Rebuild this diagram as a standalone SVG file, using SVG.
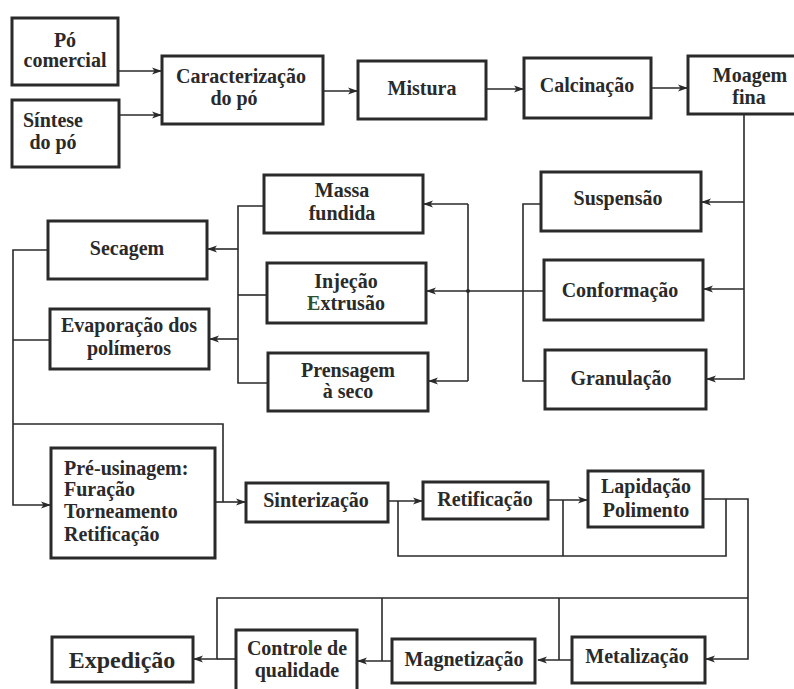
<svg xmlns="http://www.w3.org/2000/svg" width="794" height="689" viewBox="0 0 794 689">
<style>
.box{fill:#fff;stroke:#2a2a2a;stroke-width:3}
.t{font-family:'Liberation Serif','DejaVu Serif',serif;font-weight:700;font-size:20px;fill:#2a2a2a;text-anchor:middle}
.tl{text-anchor:start}
.big{font-size:24px}
.c{fill:none;stroke:#2a2a2a;stroke-width:1.6}
</style>
<defs>
<marker id="ah" markerWidth="10" markerHeight="8" refX="9" refY="4" orient="auto" markerUnits="userSpaceOnUse">
<path d="M0,0.5 L10,4 L0,7.5 L2.5,4 Z" fill="#2a2a2a"/>
</marker>
</defs>
<rect width="794" height="689" fill="#fff"/>
<g id="connectors">
<path class="c" d="M118,71 H161" marker-end="url(#ah)"/>
<path class="c" d="M119,115 H161" marker-end="url(#ah)"/>
<path class="c" d="M323,91 H357" marker-end="url(#ah)"/>
<path class="c" d="M486,89 H523" marker-end="url(#ah)"/>
<path class="c" d="M651,88 H687" marker-end="url(#ah)"/>
<path class="c" d="M744,115 V379 H707" marker-end="url(#ah)"/>
<path class="c" d="M744,202 H702" marker-end="url(#ah)"/>
<path class="c" d="M744,289 H704" marker-end="url(#ah)"/>
<path class="c" d="M541,204 H523 V381 H545"/>
<path class="c" d="M544,291 H427" marker-end="url(#ah)"/>
<path class="c" d="M468,204 V381"/>
<path class="c" d="M468,204 H424" marker-end="url(#ah)"/>
<path class="c" d="M468,381 H429" marker-end="url(#ah)"/>
<circle cx="468" cy="291" r="2" fill="#2a2a2a"/>
<path class="c" d="M264,206 H238 V383 H268"/>
<path class="c" d="M267,295 H238"/>
<path class="c" d="M238,249 H208" marker-end="url(#ah)"/>
<path class="c" d="M238,339 H210" marker-end="url(#ah)"/>
<path class="c" d="M48,250 H13 V505 H50" marker-end="url(#ah)"/>
<path class="c" d="M50,340 H13"/>
<path class="c" d="M13,424 H223 V502"/>
<path class="c" d="M215,502 H245" marker-end="url(#ah)"/>
<path class="c" d="M388,501 H422" marker-end="url(#ah)"/>
<path class="c" d="M398,501 V556 H726 V499"/>
<path class="c" d="M548,500 H587" marker-end="url(#ah)"/>
<path class="c" d="M563,500 V556"/>
<path class="c" d="M703,499 H748 V659 H706" marker-end="url(#ah)"/>
<path class="c" d="M748,598 H217 V659 H194" marker-end="url(#ah)"/>
<path class="c" d="M236,659 H217"/>
<path class="c" d="M559,598 V660"/>
<path class="c" d="M572,660 H538" marker-end="url(#ah)"/>
<path class="c" d="M382,598 V661"/>
<path class="c" d="M392,661 H358" marker-end="url(#ah)"/>
</g>
<g font-family="Liberation Serif, serif">
<g id="po-comercial"><rect class="box" x="12" y="18" width="106" height="67"/><text class="t" x="65" y="47">Pó</text><text class="t" x="65" y="67">comercial</text></g>
<g id="sintese"><rect class="box" x="12" y="100" width="107" height="67"/><text class="t" x="53" y="127">Síntese</text><text class="t" x="53" y="149">do pó</text></g>
<g id="caracterizacao"><rect class="box" x="162" y="56" width="161" height="68"/><text class="t" x="241" y="83">Caracterização</text><text class="t" x="234" y="105">do pó</text></g>
<g id="mistura"><rect class="box" x="358" y="61" width="128" height="58"/><text class="t" x="422" y="95">Mistura</text></g>
<g id="calcinacao"><rect class="box" x="524" y="58" width="127" height="60"/><text class="t" x="587" y="92">Calcinação</text></g>
<g id="moagem"><rect class="box" x="688" y="56" width="120" height="58"/><text class="t" x="750" y="82">Moagem</text><text class="t" x="749" y="104">fina</text></g>
<g id="suspensao"><rect class="box" x="541" y="172" width="160" height="59"/><text class="t" x="618" y="205">Suspensão</text></g>
<g id="conformacao"><rect class="box" x="544" y="260" width="159" height="60"/><text class="t" x="620" y="297">Conformação</text></g>
<g id="granulacao"><rect class="box" x="545" y="350" width="161" height="59"/><text class="t" x="621" y="385">Granulação</text></g>
<g id="massa-fundida"><rect class="box" x="264" y="175" width="159" height="58"/><text class="t" x="342" y="197">Massa</text><text class="t" x="342" y="220">fundida</text></g>
<g id="injecao"><rect class="box" x="267" y="263" width="159" height="60"/><text class="t" x="346" y="288">Injeção</text><text class="t" x="346" y="310"><tspan fill="#2f4f2f">E</tspan>xtrusão</text></g>
<g id="prensagem"><rect class="box" x="268" y="353" width="160" height="58"/><text class="t" x="348" y="377">Prensagem</text><text class="t" x="348" y="398">à seco</text></g>
<g id="secagem"><rect class="box" x="48" y="221" width="159" height="58"/><text class="t" x="127" y="255">Secagem</text></g>
<g id="evaporacao"><rect class="box" x="50" y="309" width="159" height="60"/><text class="t" x="129" y="332">Evaporação dos</text><text class="t" x="129" y="355">polímeros</text></g>
<g id="pre-usinagem"><rect class="box" x="51" y="448" width="164" height="110"/><text class="t tl" x="64" y="475">Pré-usinagem:</text><text class="t tl" x="64" y="496">Furação</text><text class="t tl" x="64" y="518">Torneamento</text><text class="t tl" x="64" y="541">Retificação</text></g>
<g id="sinterizacao"><rect class="box" x="246" y="483" width="142" height="39"/><text class="t" x="316" y="507">Sinterização</text></g>
<g id="retificacao"><rect class="box" x="423" y="482" width="125" height="37"/><text class="t" x="485" y="506">Retificação</text></g>
<g id="lapidacao"><rect class="box" x="588" y="471" width="115" height="56"/><text class="t" x="646" y="493">Lapidação</text><text class="t" x="646" y="517">Polimento</text></g>
<g id="metalizacao"><rect class="box" x="572" y="637" width="133" height="46"/><text class="t" x="637" y="663">Metalização</text></g>
<g id="magnetizacao"><rect class="box" x="392" y="639" width="143" height="44"/><text class="t" x="464" y="666">Magnetização</text></g>
<g id="controle"><rect class="box" x="236" y="630" width="121" height="70"/><text class="t" x="297" y="655">Contro<tspan fill="#2f5f2f">l</tspan>e de</text><text class="t" x="297" y="677">qualidade</text></g>
<g id="expedicao"><rect class="box" x="52" y="637" width="141" height="45"/><text class="t big" x="122" y="668">Expedição</text></g>
</g>
</svg>
